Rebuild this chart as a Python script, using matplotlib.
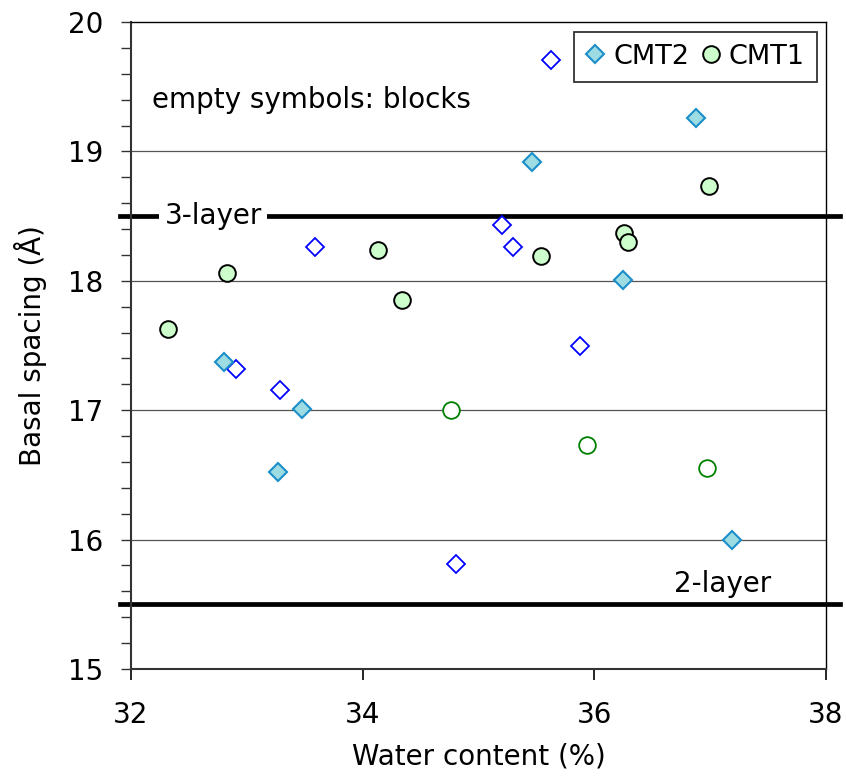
import numpy as np
import matplotlib
matplotlib.use("Agg")
import matplotlib.pyplot as plt
from matplotlib.ticker import MultipleLocator

# CMT2 powders (filled diamonds) and blocks (empty diamonds)
cmt2_water = [35.46, 36.88, 36.25, 32.80, 33.48, 33.27, 37.19]
cmt2_spacing = [18.92, 19.26, 18.01, 17.37, 17.01, 16.52, 16.00]
cmt2_block_water = [35.63, 35.20, 35.30, 33.59, 35.88, 32.91, 33.29, 34.81]
cmt2_block_spacing = [19.71, 18.43, 18.26, 18.26, 17.50, 17.32, 17.16, 15.81]

# CMT1 powders (filled circles) and blocks (empty circles)
cmt1_water = [32.32, 32.83, 34.13, 34.34, 35.54, 36.26, 36.29, 36.99]
cmt1_spacing = [17.63, 18.06, 18.24, 17.85, 18.19, 18.37, 18.30, 18.73]
cmt1_block_water = [34.76, 35.94, 36.97]
cmt1_block_spacing = [17.00, 16.73, 16.55]

# hydration-state reference spacings
layer_levels = [18.5, 15.5]
layer_labels = ["3-layer", "2-layer"]

plt.rcParams["font.family"] = "DejaVu Sans"
plt.rcParams["font.size"] = 20

fig = plt.figure(figsize=(8.46, 7.76), dpi=100)
ax = fig.add_axes([0.1548, 0.1379, 0.8216, 0.8337])

ax.set_xlim(32, 38)
ax.set_ylim(15, 20)

for yv in [16, 17, 18, 19]:
    ax.axhline(yv, color="#555555", lw=0.9, zorder=1)

for yv in layer_levels:
    ax.axhline(yv, xmin=-0.016, xmax=1.02, color="black", lw=3.4,
               clip_on=False, zorder=2)

ax.text(32.29, layer_levels[0], layer_labels[0], ha="left", va="center",
        fontsize=20, zorder=3,
        bbox=dict(facecolor="white", edgecolor="none", pad=4))
ax.text(37.11, 15.66, layer_labels[1], ha="center", va="center", fontsize=20,
        zorder=3)

ax.plot(cmt2_block_water, cmt2_block_spacing, ls="none", marker="D", ms=9.5,
        mfc="white", mec="#0000ff", mew=1.3, zorder=4)
ax.plot(cmt1_block_water, cmt1_block_spacing, ls="none", marker="o", ms=12,
        mfc="white", mec="#008000", mew=1.3, zorder=4)
ax.plot(cmt2_water, cmt2_spacing, ls="none", marker="D", ms=9.5,
        mfc="#9ddce2", mec="#1b8ec8", mew=1.5, zorder=5, label="CMT2")
ax.plot(cmt1_water, cmt1_spacing, ls="none", marker="o", ms=12,
        mfc="#ccffcc", mec="black", mew=1.4, zorder=5, label="CMT1")

ax.text(32.18, 19.40, "empty symbols: blocks", ha="left", va="center",
        fontsize=20)

leg = ax.legend(loc="upper right", ncol=2, fontsize=19.5, frameon=True,
                fancybox=False, handlelength=0.7, handletextpad=0.3,
                columnspacing=0.45, borderpad=0.45, borderaxespad=0.35)
leg.get_frame().set_edgecolor("black")
leg.get_frame().set_linewidth(1.3)
leg.set_zorder(6)

ax.xaxis.set_major_locator(MultipleLocator(2))
ax.yaxis.set_major_locator(MultipleLocator(1))
ax.yaxis.set_minor_locator(MultipleLocator(0.2))
ax.tick_params(axis="x", which="major", direction="out", length=8, width=1.2,
               pad=15, labelsize=20)
ax.tick_params(axis="y", which="both", direction="out", length=7, width=1.0,
               pad=13, labelsize=20, colors="#333333", labelcolor="black")

for side in ["left", "bottom"]:
    ax.spines[side].set_linewidth(1.5)
    ax.spines[side].set_color("#333333")
for side in ["top", "right"]:
    ax.spines[side].set_linewidth(1.0)
    ax.spines[side].set_color("black")

ax.set_xlabel("Water content (%)", fontsize=20, labelpad=10)
ax.set_ylabel("Basal spacing (Å)", fontsize=20, labelpad=15)

fig.savefig("out.png", dpi=100)
